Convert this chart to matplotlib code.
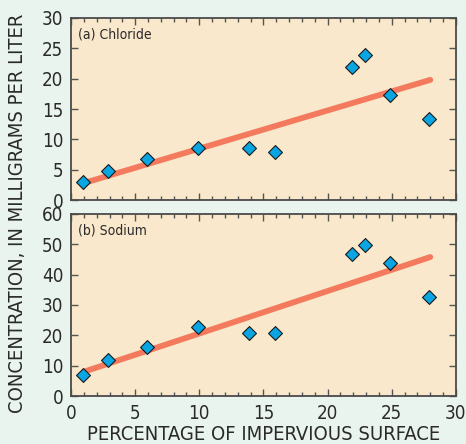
import matplotlib
matplotlib.use('Agg')
import matplotlib.pyplot as plt
from matplotlib.ticker import MultipleLocator

plt.rcParams['font.family'] = ['DejaVu Sans']
plt.rcParams['font.stretch'] = 'condensed'

# data
impervious = [0.9, 2.9, 5.9, 9.9, 13.9, 15.9, 21.9, 22.9, 24.9, 27.9]
chloride = [3.0, 4.8, 6.8, 8.6, 8.5, 7.9, 22.0, 23.9, 17.3, 13.3]
sodium = [7.0, 11.9, 16.0, 22.9, 20.9, 20.9, 46.9, 49.8, 43.8, 32.7]
fit_x = [1, 28]
chloride_fit = [2.8, 19.8]
sodium_fit = [8.0, 45.8]

panels = [('(a) Chloride', chloride, chloride_fit, 30, 5),
          ('(b) Sodium', sodium, sodium_fit, 60, 10)]

bg = '#eaf4ee'
face = '#f9e8cb'
edge = '#4a4a4a'
txtc = '#2a2a2a'

fig = plt.figure(figsize=(4.66, 4.44), dpi=100, facecolor=bg)
boxes = [[0.1524, 0.5495, 0.826, 0.41], [0.1524, 0.1081, 0.826, 0.41]]

for box, (name, vals, fit, ymax, ystep) in zip(boxes, panels):
    ax = fig.add_axes(box, facecolor=face)
    ax.plot(fit_x, fit, color='#f47a5e', lw=4.2, solid_capstyle='round', zorder=2)
    ax.scatter(impervious, vals, marker='D', s=50, color='#0aa5e3',
               edgecolor='#1a1a1a', linewidth=0.8, zorder=3)
    ax.set_xlim(0, 30)
    ax.set_ylim(0, ymax)
    ax.xaxis.set_major_locator(MultipleLocator(5))
    ax.xaxis.set_minor_locator(MultipleLocator(1))
    ax.yaxis.set_major_locator(MultipleLocator(ystep))
    ax.tick_params(which='both', direction='in', top=True, right=True,
                   color='#555555', labelsize=13.5, labelcolor=txtc, pad=5.5)
    ax.tick_params(which='major', length=5, width=1)
    ax.tick_params(which='minor', length=3, width=1)
    for s in ax.spines.values():
        s.set_color(edge)
        s.set_linewidth(1.3)
    ax.text(0.018, 0.945, name, transform=ax.transAxes, fontsize=10,
            color=txtc, va='top', ha='left')
    if ymax == 30:
        ax.tick_params(labelbottom=False)
    else:
        ax.set_xlabel('PERCENTAGE OF IMPERVIOUS SURFACE', fontsize=14.5,
                      color=txtc, labelpad=2)

fig.text(0.038, 0.52, 'CONCENTRATION, IN MILLIGRAMS PER LITER', rotation=90,
         fontsize=14.5, color=txtc, ha='center', va='center')

fig.savefig('out.png', dpi=100, facecolor=bg)
